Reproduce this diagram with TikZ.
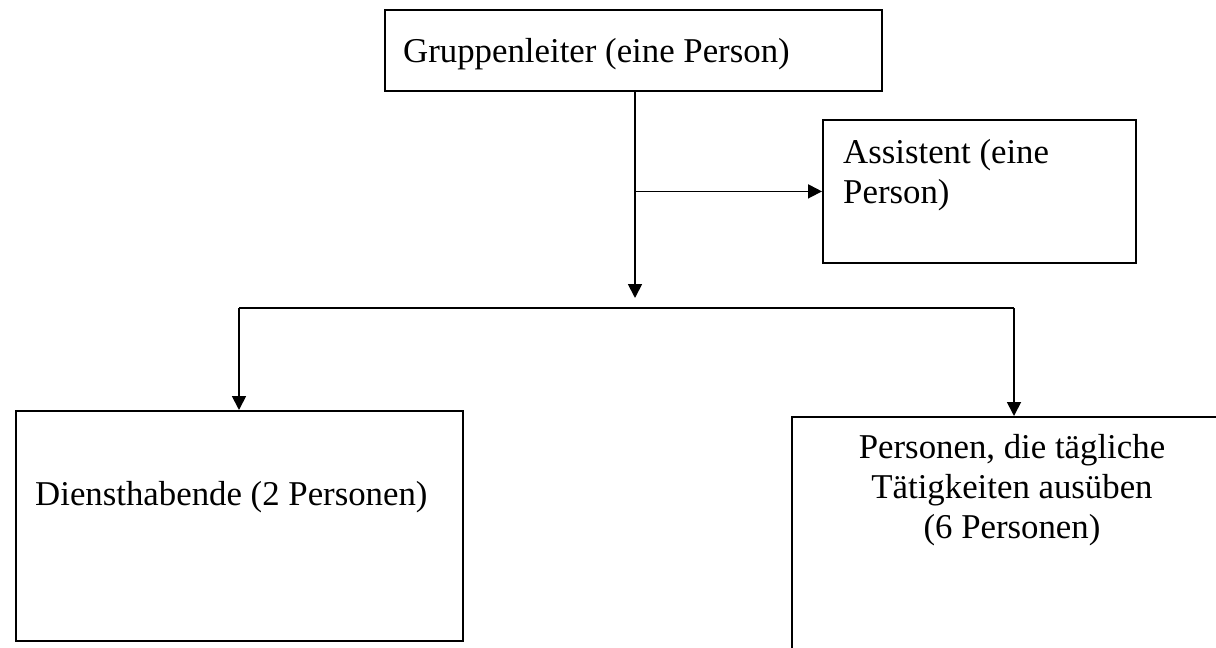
\documentclass[tikz,border=0pt]{standalone}
\usepackage{fontspec}
\setmainfont{Liberation Serif}
\usetikzlibrary{arrows.meta}
\begin{document}
\begin{tikzpicture}[x=1pt,y=-1pt,
  box/.style={draw, line width=1.8pt, inner sep=0pt, anchor=north west, fill=none},
  conn/.style={line width=1.8pt, -{Triangle[length=14pt,width=14pt]}},
  bar/.style={line width=1.8pt},
  txt/.style={inner sep=0pt, font=\fontsize{34.8pt}{40pt}\selectfont}]
\useasboundingbox (0,0) rectangle (1216,648);
\clip (0,0) rectangle (1216,648);
% boxes
\node[box, minimum width=497pt, minimum height=81pt] (lead) at (384,9) {};
\node[box, minimum width=313pt, minimum height=143pt] (asst) at (822,119) {};
\node[box, minimum width=447pt, minimum height=230pt] (dienst) at (15,410) {};
\node[box, minimum width=442pt, minimum height=274pt] (pers) at (791,416) {};
% texts (multi-line nodes: base = baseline of the last line)
\node[txt, anchor=base west] (tlead) at (403,62) {Gruppenleiter (eine Person)};
\node[txt, anchor=base west, align=left] (tasst) at (843,203) {Assistent (eine\\Person)};
\node[txt, anchor=base west] (tdienst) at (35,505) {Diensthabende (2 Personen)};
\node[txt, anchor=base, align=center] (tpers) at (1012,538) {Personen, die tägliche\\Tätigkeiten ausüben\\(6 Personen)};
% connectors
\coordinate (split) at (635,298);
\coordinate (barL) at (239,308);
\coordinate (barR) at (1014,308);
\draw[conn] (lead.south -| split) -- (split);
\draw[conn] (split |- asst.west) -- (asst.west);
\draw[bar] (barL) -- (barR);
\draw[conn] (barL) -- (barL |- dienst.north);
\draw[conn] (barR) -- (barR |- pers.north);
\end{tikzpicture}
\end{document}
